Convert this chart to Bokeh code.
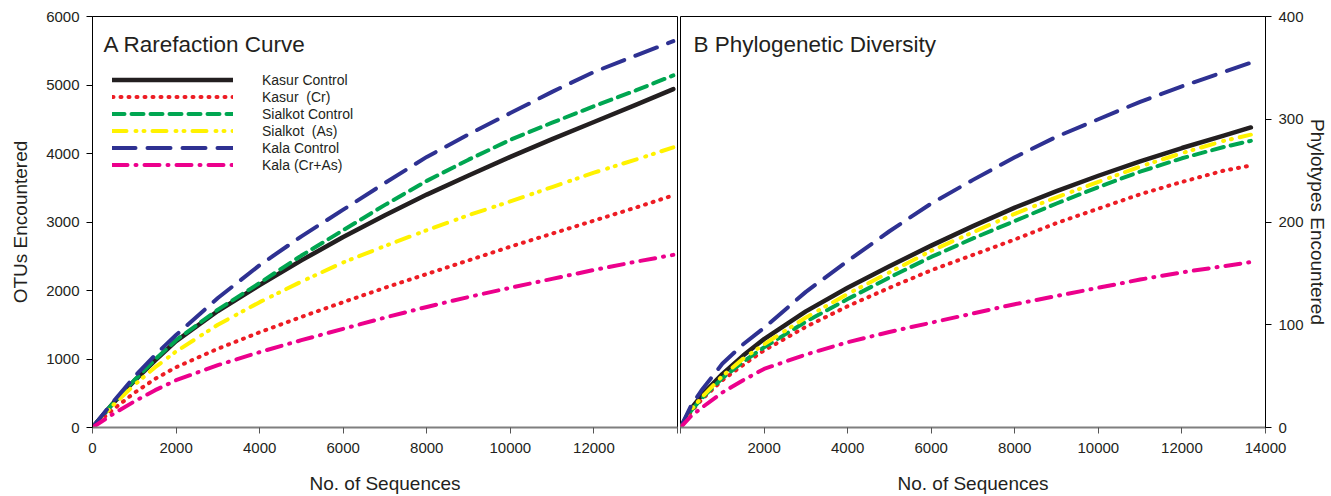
from bokeh.plotting import figure
from bokeh.layouts import row
from bokeh.models import Range1d, FixedTicker, Legend, LegendItem, Label
from bokeh.embed import file_html
from bokeh.resources import INLINE

# ---------------- data ----------------
series_names = ["Kasur Control", "Kasur  (Cr)", "Sialkot Control", "Sialkot  (As)", "Kala Control", "Kala (Cr+As)"]

# Panel A: rarefaction (OTUs encountered)
x_a = [0, 500, 1000, 1500, 2000, 3000, 4000, 5000, 6000, 7000, 8000, 9000, 10000, 11000, 12000, 13000, 13900]
kasur_control_a = [0, 360, 680, 980, 1260, 1700, 2080, 2440, 2780, 3100, 3400, 3680, 3950, 4210, 4460, 4710, 4940]
kasur_cr_a = [0, 268, 505, 710, 880, 1150, 1390, 1615, 1830, 2040, 2240, 2440, 2640, 2830, 3020, 3210, 3390]
sialkot_control_a = [0, 360, 690, 995, 1275, 1720, 2110, 2510, 2880, 3250, 3600, 3910, 4200, 4450, 4690, 4920, 5140]
sialkot_as_a = [0, 330, 620, 880, 1110, 1500, 1830, 2130, 2410, 2650, 2880, 3100, 3300, 3510, 3720, 3910, 4090]
kala_control_a = [0, 380, 740, 1060, 1350, 1890, 2370, 2790, 3180, 3570, 3950, 4280, 4590, 4900, 5190, 5430, 5640]
kala_cras_a = [0, 200, 380, 545, 690, 910, 1100, 1275, 1440, 1605, 1760, 1905, 2040, 2170, 2300, 2420, 2520]

# Panel B: phylogenetic diversity (phylotypes encountered)
x_b = [0, 250, 500, 1000, 1500, 2000, 3000, 4000, 5000, 6000, 7000, 8000, 9000, 10000, 11000, 12000, 13000, 13650]
kasur_control_b = [0, 18, 31, 52, 70, 86, 113, 136, 157, 177, 196, 214, 230, 245, 259, 272, 284, 292]
kasur_cr_b = [0, 15, 27, 46, 61, 75, 98, 118, 136, 153, 168, 183, 199, 213, 227, 239, 250, 255]
sialkot_control_b = [0, 16, 28, 48, 64, 78, 103, 125, 146, 166, 184, 201, 218, 234, 249, 262, 273, 279]
sialkot_as_b = [0, 17, 29, 50, 67, 81, 107, 130, 151, 172, 190, 208, 224, 239, 254, 267, 279, 285]
kala_control_b = [0, 21, 36, 62, 81, 97, 132, 162, 191, 218, 241, 263, 283, 300, 317, 332, 346, 355]
kala_cras_b = [0, 11, 19, 34, 46, 57, 71, 83, 93, 102, 111, 120, 128, 136, 144, 151, 157, 161]

x_ticks = [0, 2000, 4000, 6000, 8000, 10000, 12000, 14000]
y_ticks_a = [0, 1000, 2000, 3000, 4000, 5000, 6000]
y_ticks_b = [0, 100, 200, 300, 400]

# ---------------- styles ----------------
colors = ["#231f20", "#ed1c24", "#00a651", "#fff200", "#2e3192", "#ec008c"]
dashes = ["solid", "1 7", "12 7", "14 9 1 7 1 8", "23 12", "15 8 1 8"]
widths = [4.5, 4, 4, 4, 4, 4]
FONT = "Liberation Sans"
TXT = "#231f20"
H = 496


def style_axis(ax):
    ax.minor_tick_line_color = None
    ax.major_tick_in = 0
    ax.major_tick_out = 6
    ax.major_label_text_font = FONT
    ax.major_label_text_font_size = "15px"
    ax.major_label_text_color = TXT
    ax.axis_label_text_font = FONT
    ax.axis_label_text_font_size = "19px"
    ax.axis_label_text_font_style = "normal"
    ax.axis_label_text_color = TXT


def make_fig(width, ylim, yloc, mb_left, mb_right):
    p = figure(width=width, height=H, output_backend="svg", toolbar_location=None,
               x_range=Range1d(0, 14000), y_range=Range1d(*ylim),
               y_axis_location=yloc,
               min_border_left=mb_left, min_border_right=mb_right,
               min_border_top=16, min_border_bottom=69)
    p.grid.visible = False
    p.outline_line_color = "black"
    p.outline_line_width = 1
    p.background_fill_color = "white"
    p.border_fill_color = "white"
    return p


def style_xaxis(ax, overrides):
    style_axis(ax)
    ax.ticker = FixedTicker(ticks=x_ticks)
    ax.major_label_overrides = overrides
    ax.axis_line_color = "#7f7f7f"
    ax.axis_line_width = 2
    ax.major_tick_line_color = "#555555"
    ax.major_label_standoff = 9
    ax.axis_label = "No. of Sequences"
    ax.axis_label_standoff = 17


# ---------------- panel A ----------------
pa = make_fig(679, (0, 6000), "left", 92, 2)
style_xaxis(pa.xaxis[0], {14000: ""})
ya = pa.yaxis[0]
style_axis(ya)
ya.ticker = FixedTicker(ticks=y_ticks_a)
ya.axis_line_color = "black"
ya.major_label_standoff = 7
ya.axis_label = "OTUs Encountered"
ya.axis_label_standoff = 12

ys_a = [kasur_control_a, kasur_cr_a, sialkot_control_a, sialkot_as_a, kala_control_a, kala_cras_a]
items = []
for name, ys, c, d, w in zip(series_names, ys_a, colors, dashes, widths):
    r = pa.line(x_a, ys, line_color=c, line_width=w, line_dash=d,
                line_cap="round", line_join="round")
    items.append(LegendItem(label=name, renderers=[r]))

legend = Legend(items=items, location=(20, 254), orientation="vertical",
                glyph_width=121, glyph_height=17, label_height=17, label_width=10,
                label_standoff=29, spacing=0, padding=0, margin=0,
                border_line_color=None, background_fill_alpha=0,
                label_text_font=FONT, label_text_font_size="14px",
                label_text_color=TXT)
pa.add_layout(legend)

pa.add_layout(Label(x=263, y=5590, text="A Rarefaction Curve", text_font=FONT,
                    text_font_size="22.5px", text_color=TXT, text_baseline="alphabetic"))

# ---------------- panel B ----------------
pb = make_fig(652, (0, 400), "right", 1, 66)
style_xaxis(pb.xaxis[0], {0: ""})
yb = pb.yaxis[0]
style_axis(yb)
yb.ticker = FixedTicker(ticks=y_ticks_b)
yb.axis_line_color = "black"
yb.major_label_standoff = 7
yb.axis_label = "Phylotypes Encountered"
yb.axis_label_standoff = 0

ys_b = [kasur_control_b, kasur_cr_b, sialkot_control_b, sialkot_as_b, kala_control_b, kala_cras_b]
for ys, c, d, w in zip(ys_b, colors, dashes, widths):
    pb.line(x_b, ys, line_color=c, line_width=w, line_dash=d,
            line_cap="round", line_join="round")

pb.add_layout(Label(x=311, y=372.7, text="B Phylogenetic Diversity", text_font=FONT,
                    text_font_size="22.5px", text_color=TXT, text_baseline="alphabetic"))

layout = row(pa, pb, spacing=0)
open("out.html", "w").write(file_html(layout, INLINE))
